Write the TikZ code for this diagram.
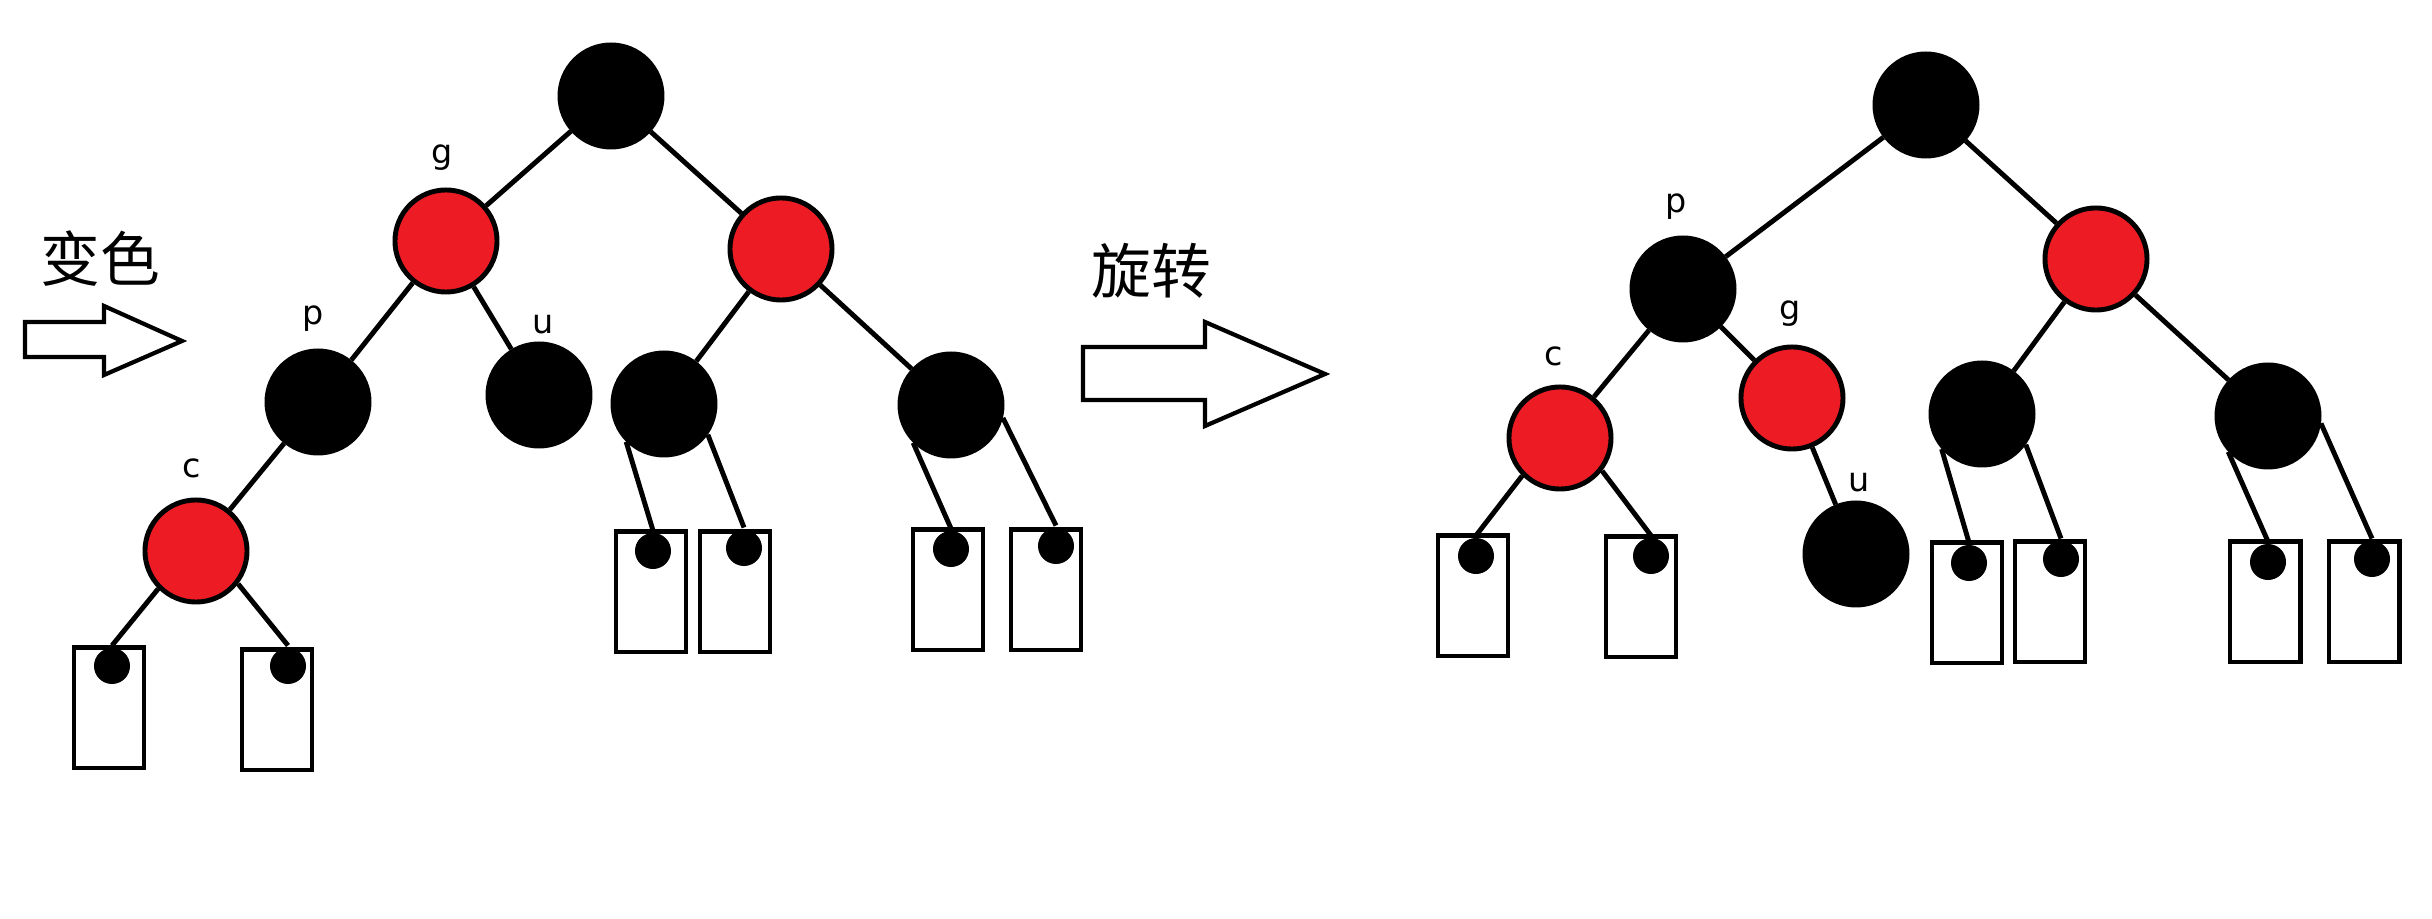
\documentclass[tikz,border=0pt]{standalone}
\usepackage{fontspec}
\setmainfont{DejaVu Sans}
\newfontfamily\cjk{Noto Sans CJK SC}
\definecolor{paintred}{HTML}{ED1C24}

\begin{document}
\begin{tikzpicture}[x=0.01cm, y=-0.01cm, line width=1.4pt,
    blknode/.style={circle, draw=black, fill=black, minimum size=1.02cm, inner sep=0pt},
    rednode/.style={circle, draw=black, fill=paintred, minimum size=1.02cm, inner sep=0pt},
    leafbox/.style={draw=black, fill=white, minimum width=0.70cm, minimum height=1.20cm, inner sep=0pt},
    leafdot/.style={circle, fill=black, minimum size=0.36cm, inner sep=0pt},
    lbl/.style={font=\fontsize{9.5}{11}\selectfont, inner sep=0pt},
    cjklbl/.style={font=\cjk\fontsize{17}{20}\selectfont, inner sep=0pt},
    blockarrow/.style={draw=black, fill=white, line width=1.2pt, line join=miter}]
  \useasboundingbox (0,0) rectangle (2432,919);

  % Recolour step.
  \node[cjklbl] (recolor) at (100,259) {变色};
  \draw[blockarrow] (25,322) -- (104,322) -- (104,306) -- (182,341) -- (104,375) -- (104,357) -- (25,357) -- cycle;

  % Tree before the rotation.
  \node[blknode] (lroot) at (611,96) {};
  \node[rednode] (lg) at (446,241) {};
  \node[rednode] (lr) at (781,249) {};
  \node[blknode] (lp) at (318,402) {};
  \node[blknode] (lu) at (539,395) {};
  \node[rednode] (lc) at (196,551) {};
  \node[blknode] (lrl) at (664,404) {};
  \node[blknode] (lrr) at (951,405) {};
  \node[lbl] (lglbl) at (442,158) {g};
  \node[lbl] (lplbl) at (313,319) {p};
  \node[lbl] (lulbl) at (543,324) {u};
  \node[lbl] (lclbl) at (192,468) {c};
  % Leaves.
  \foreach \name/\bx/\by/\dx/\dy in {lc1/109/708/112/666, lc2/277/710/288/666,
      lrl1/651/592/653/551, lrl2/735/592/744/548,
      lrr1/948/590/951/549, lrr2/1046/590/1056/546} {
    \node[leafbox] (\name box) at (\bx,\by) {};
    \node[leafdot] (\name) at (\dx,\dy) {};
  }
  \draw (lroot) -- (lg);
  \draw (lroot) -- (lr);
  \draw (lg) -- (lp);
  \draw (lg) -- (lu);
  \draw (lp) -- (lc);
  \draw (lr) -- (lrl);
  \draw (lr) -- (lrr);
  \draw (lc.-135) -- (lc1.north);
  \draw (lc.-38) -- (lc2.north);
  \draw (lrl.-135) -- (lrl1.north);
  \draw (lrl.-35) -- (lrl2.north);
  \draw (lrr.-135) -- (lrr1.north);
  \draw (lrr.-14) -- (lrr2.north);

  % Rotate step.
  \node[cjklbl] (rotate) at (1151,271) {旋转};
  \draw[blockarrow] (1083,347) -- (1205,347) -- (1205,322) -- (1325,374) -- (1205,426) -- (1205,400) -- (1083,400) -- cycle;

  % Tree after the rotation.
  \node[blknode] (rroot) at (1926,105) {};
  \node[blknode] (rp) at (1683,289) {};
  \node[rednode] (rr) at (2096,259) {};
  \node[rednode] (rc) at (1560,438) {};
  \node[rednode] (rg) at (1792,398) {};
  \node[blknode] (ru) at (1856,554) {};
  \node[blknode] (rrl) at (1982,414) {};
  \node[blknode] (rrr) at (2268,416) {};
  \node[lbl] (rplbl) at (1676,207) {p};
  \node[lbl] (rglbl) at (1790,314) {g};
  \node[lbl] (rclbl) at (1554,356) {c};
  \node[lbl] (rulbl) at (1859,482) {u};
  % Leaves.
  \foreach \name/\bx/\by/\dx/\dy in {rc1/1473/596/1476/556, rc2/1641/597/1651/556,
      rrl1/1967/603/1969/563, rrl2/2050/602/2061/559,
      rrr1/2265/602/2268/562, rrr2/2364/602/2372/559} {
    \node[leafbox] (\name box) at (\bx,\by) {};
    \node[leafdot] (\name) at (\dx,\dy) {};
  }
  \draw (rroot) -- (rp);
  \draw (rroot) -- (rr);
  \draw (rp) -- (rc);
  \draw (rp) -- (rg);
  \draw (rg) -- (ru);
  \draw (rr) -- (rrl);
  \draw (rr) -- (rrr);
  \draw (rc.-135) -- (rc1.north);
  \draw (rc.-38) -- (rc2.north);
  \draw (rrl.-139) -- (rrl1.north);
  \draw (rrl.-35) -- (rrl2.north);
  \draw (rrr.-138) -- (rrr1.north);
  \draw (rrr.-8) -- (rrr2.north);
\end{tikzpicture}
\end{document}
